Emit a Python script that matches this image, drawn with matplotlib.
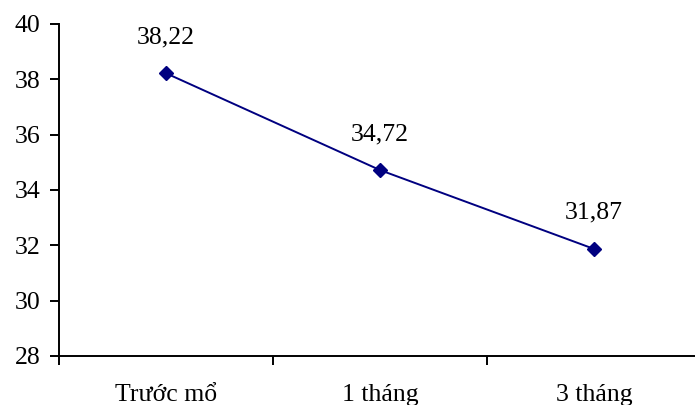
import matplotlib
matplotlib.use("Agg")
import matplotlib.pyplot as plt

# data
categories = ["Trước mổ", "1 tháng", "3 tháng"]
values = [38.22, 34.72, 31.87]
value_labels = ["38,22", "34,72", "31,87"]
yticks = [28, 30, 32, 34, 36, 38, 40]

plt.rcParams['font.family'] = ['Liberation Serif', 'DejaVu Serif']
fs = 18.5

fig = plt.figure(figsize=(6.95, 4.05), dpi=100)
W, H = 695, 405
ax = fig.add_axes([59 / W, 1 - 356 / H, (701 - 59) / W, (356 - 24) / H])

x = [0, 1, 2]
ax.plot(x, values, color='#000080', lw=1.4, marker='D', markersize=7.5,
        markerfacecolor='#000080', markeredgecolor='#000080', clip_on=False)

for xi, v, lab in zip(x, values, value_labels):
    ax.annotate(lab, (xi, v), xytext=(0, 26), textcoords='offset points',
                ha='center', va='center', fontsize=fs)

ax.set_xlim(-0.5, 2.5)
ax.set_ylim(28, 40)
ax.set_yticks(yticks)
ax.set_yticklabels([str(t) for t in yticks], fontsize=fs)

ax.set_xticks([-0.5, 0.5, 1.5, 2.5])
ax.set_xticklabels([])
ax.set_xticks(x, minor=True)
ax.set_xticklabels(categories, minor=True, fontsize=fs)
ax.tick_params(axis='x', which='minor', length=0, pad=20)
ax.tick_params(axis='x', which='major', length=6.5, width=1.4)
ax.tick_params(axis='y', length=6.5, width=1.4, pad=7)

for s in ['top', 'right']:
    ax.spines[s].set_visible(False)
for s in ['left', 'bottom']:
    ax.spines[s].set_linewidth(1.4)

fig.savefig("out.png", dpi=100)
